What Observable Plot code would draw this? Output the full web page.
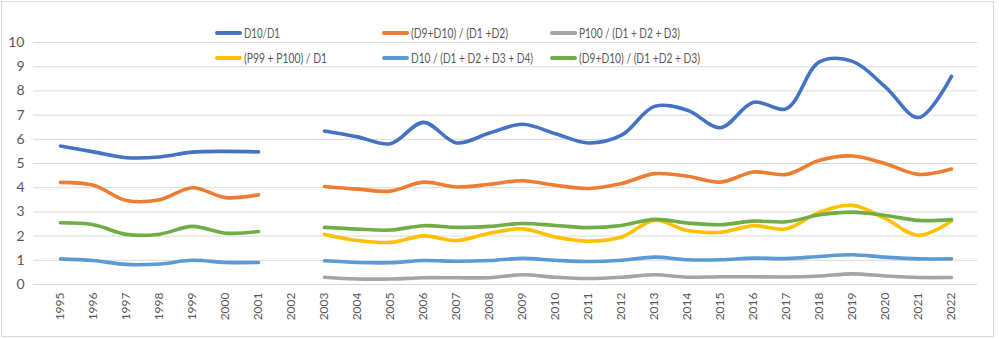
<!DOCTYPE html>
<html><head><meta charset="utf-8">
<script src="https://cdn.jsdelivr.net/npm/d3@7"></script>
<script src="https://cdn.jsdelivr.net/npm/@observablehq/plot@0.6"></script>
<style>
html,body{margin:0;padding:0;background:#fff;}
#wrap{position:relative;width:999px;height:339px;font-family:Lato,"Liberation Sans",Arial,sans-serif;}
#frame{position:absolute;left:1px;top:1px;width:993px;height:336px;border:1px solid #d9d9d9;box-sizing:border-box;pointer-events:none;}
.leg{position:absolute;font-size:12.5px;color:#595959;white-space:nowrap;display:flex;align-items:center;}
.leg span.sw{display:inline-block;width:27px;height:4px;border-radius:2px;margin-right:2px;}
.leg span.tx{display:inline-block;transform-origin:0 50%;}
</style></head>
<body><div id="wrap"><div id="frame"></div></div>
<script>
const years = ["1995","1996","1997","1998","1999","2000","2001","2002","2003","2004","2005","2006","2007","2008","2009","2010","2011","2012","2013","2014","2015","2016","2017","2018","2019","2020","2021","2022"];
const seriesNames = ["D10/D1","(D9+D10) / (D1 +D2)","P100 / (D1 + D2 + D3)","(P99 + P100) / D1","D10 / (D1 + D2 + D3 + D4)","(D9+D10) / (D1 +D2 + D3)"];
const seriesColors = ["#4472C4","#ED7D31","#A5A5A5","#FFC000","#5B9BD5","#70AD47"];
const d10d1 =      [5.72,5.48,5.24,5.27,5.47,5.5,5.48,null,6.34,6.1,5.82,6.7,5.85,6.26,6.62,6.23,5.85,6.17,7.36,7.2,6.48,7.53,7.27,9.2,9.22,8.16,6.9,8.6];
const d9d10_d1d2 = [4.22,4.1,3.47,3.5,4.0,3.59,3.71,null,4.05,3.94,3.86,4.23,4.03,4.14,4.29,4.1,3.97,4.17,4.58,4.47,4.23,4.65,4.55,5.13,5.31,4.99,4.55,4.77];
const p100_d1d3 =  [null,null,null,null,null,null,null,null,0.3,0.23,0.23,0.28,0.28,0.28,0.4,0.3,0.25,0.3,0.4,0.3,0.32,0.32,0.31,0.35,0.44,0.35,0.29,0.29];
const p99p100_d1 = [null,null,null,null,null,null,null,null,2.07,1.82,1.74,2.01,1.82,2.12,2.3,1.96,1.79,1.96,2.65,2.23,2.16,2.43,2.3,2.99,3.27,2.72,2.03,2.62];
const d10_d1d4 =   [1.06,0.99,0.83,0.85,1.0,0.91,0.91,null,0.98,0.91,0.9,0.99,0.96,0.99,1.08,1.0,0.95,1.0,1.13,1.02,1.02,1.09,1.07,1.16,1.23,1.13,1.06,1.06];
const d9d10_d1d3 = [2.55,2.47,2.07,2.08,2.4,2.12,2.19,null,2.36,2.29,2.25,2.43,2.36,2.4,2.52,2.44,2.35,2.44,2.69,2.54,2.47,2.62,2.59,2.88,2.99,2.85,2.65,2.68];
const yTicks = [0,1,2,3,4,5,6,7,8,9,10];

const allSeries = [d10d1,d9d10_d1d2,p100_d1d3,p99p100_d1,d10_d1d4,d9d10_d1d3];
const lineMarks = allSeries.map((vals,i) =>
  Plot.line(years.map((y,j)=>({year:y,value:vals[j]})), {
    x:"year", y:"value", stroke:seriesColors[i], strokeWidth:3.6,
    curve:"catmull-rom", strokeLinecap:"round", strokeLinejoin:"round"
  }));

const chart = Plot.plot({
  width:999, height:339,
  marginLeft:33, marginRight:22, marginTop:42, marginBottom:55,
  style:{fontFamily:"Lato, Liberation Sans, Arial, sans-serif", color:"#595959", background:"transparent"},
  x:{type:"point", domain:years, padding:0.5, label:null},
  y:{domain:[0,10], label:null},
  marks:[
    Plot.gridY(yTicks,{stroke:"#d9d9d9", strokeOpacity:1, strokeWidth:1}),
    Plot.axisY(yTicks,{tickSize:0, tickPadding:9, fontSize:14, fill:"#595959", label:null}),
    Plot.axisX({tickSize:0, tickRotate:-90, tickPadding:8, fontSize:12, fill:"#595959", label:null}),
    ...lineMarks
  ]
});
chart.style.position="absolute"; chart.style.left="0"; chart.style.top="0";
const wrap=document.getElementById("wrap");
wrap.insertBefore(chart, wrap.firstChild);

// legend layout: [left, centerY, text width]
const legLayout = [[215,33,36],[382,33,97],[550,33,101],[215,58,83],[382,58,122],[550,58,121]];
seriesNames.forEach((n,i)=>{
  const d=document.createElement("div");
  d.className="leg";
  d.style.left=legLayout[i][0]+"px"; d.style.top=(legLayout[i][1]-8)+"px"; d.style.height="16px";
  d.innerHTML=`<span class="sw" style="background:${seriesColors[i]}"></span>`;
  const t=document.createElement("span"); t.className="tx"; t.textContent=n;
  d.appendChild(t);
  wrap.appendChild(d);
  const w=t.getBoundingClientRect().width;
  if(w>0) t.style.transform=`scaleX(${legLayout[i][2]/w})`;
});
</script></body></html>
